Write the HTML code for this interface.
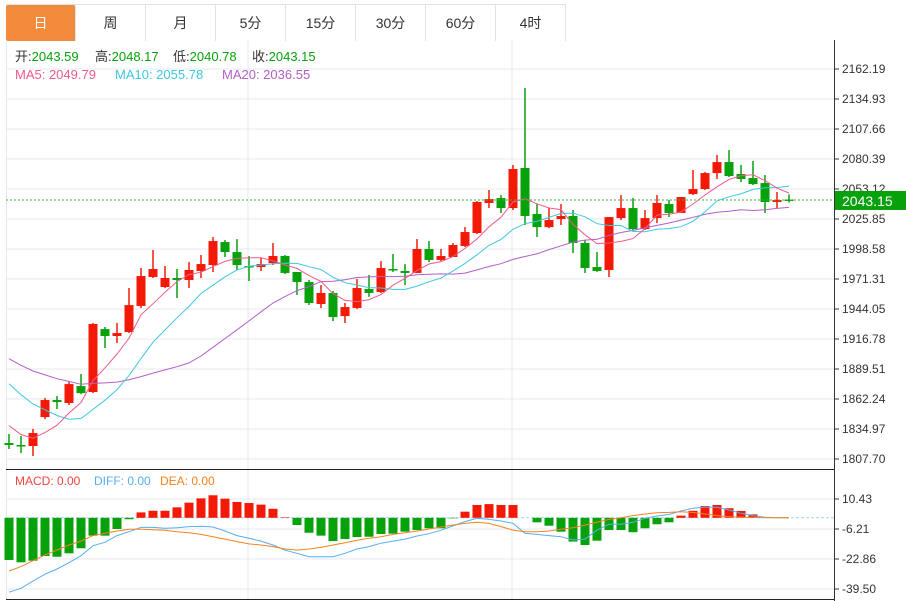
<!DOCTYPE html>
<html><head><meta charset="utf-8"><style>
html,body{margin:0;padding:0;background:#fff;width:906px;height:601px;overflow:hidden;font-family:"Liberation Sans","Noto Sans CJK SC",sans-serif;}
.tabs{position:absolute;left:6px;top:4px;height:36px;border-top:1px solid #dfe3e8;display:flex;}
.tab{width:69px;height:36px;border-right:1px solid #dfe3e8;text-align:center;line-height:36px;font-size:14px;color:#333;}
.tab.on{background:#f28b3c;color:#fff;border-radius:2px 2px 0 0;}
svg{position:absolute;left:0;top:0;}
</style></head><body>
<div class="tabs">
<div class="tab on">日</div>
<div class="tab">周</div>
<div class="tab">月</div>
<div class="tab">5分</div>
<div class="tab">15分</div>
<div class="tab">30分</div>
<div class="tab">60分</div>
<div class="tab">4时</div>
</div>
<svg id="c" width="906" height="601"></svg>
<script>
const opens=[1822.2,1820.4,1819.5,1845.8,1861.3,1858.6,1874.0,1868.6,1925.8,1919.5,1923.1,1946.8,1973.1,1964.0,1972.2,1970.4,1978.6,1984.0,2004.9,1995.8,1983.1,1982.2,1985.8,1992.2,1977.7,1968.6,1948.6,1958.6,1937.6,1945.0,1962.2,1959.5,1980.4,1978.6,1976.8,1998.6,1988.6,1991.3,2001.3,2013.1,2040.4,2044.9,2035.8,2072.2,2030.4,2018.5,2025.8,2028.6,2004.0,1982.2,1979.5,2026.7,2035.8,2016.7,2026.7,2039.5,2031.3,2048.5,2053.1,2067.6,2077.6,2066.7,2063.1,2058.5,2041.3,2043.59];
const closes=[1820.4,1819.5,1831.3,1861.3,1859.5,1875.8,1867.6,1930.4,1919.5,1922.2,1947.6,1974.0,1980.4,1972.2,1970.4,1979.5,1984.9,2005.8,1995.8,1984.0,1982.2,1984.9,1992.2,1976.8,1968.6,1949.5,1958.6,1936.7,1945.8,1963.1,1958.6,1981.3,1979.5,1976.8,1998.6,1988.6,1992.2,2002.2,2014.0,2041.3,2044.0,2035.8,2071.3,2028.6,2018.5,2024.9,2028.6,2004.0,1981.3,1978.6,2027.6,2035.8,2016.7,2026.7,2040.4,2031.3,2045.8,2053.1,2067.6,2077.6,2064.9,2062.2,2057.6,2041.3,2043.1,2043.15];
const highs=[1830.4,1828.6,1835.0,1863.1,1864.9,1877.7,1884.9,1931.3,1927.7,1931.3,1963.1,1981.3,1997.7,1983.1,1980.4,1986.7,1993.1,2009.5,2006.7,2007.6,1992.2,1990.4,2004.0,1993.1,1977.7,1970.4,1965.8,1960.4,1949.5,1971.3,1974.9,1987.6,1994.0,1984.9,2007.6,2005.8,1998.6,2004.0,2018.5,2042.2,2052.2,2047.6,2074.9,2144.9,2039.5,2035.8,2039.5,2034.0,2006.7,1995.8,2027.6,2047.6,2044.9,2034.0,2047.6,2043.1,2045.8,2070.4,2068.6,2084.0,2088.5,2075.0,2078.6,2065.8,2050.4,2048.17];
const lows=[1816.8,1813.1,1810.4,1844.0,1853.1,1856.8,1866.7,1867.6,1908.6,1913.1,1922.2,1944.9,1972.2,1963.1,1954.0,1963.1,1972.2,1977.7,1991.3,1979.5,1969.5,1978.6,1984.0,1975.8,1956.8,1947.7,1944.9,1933.1,1931.3,1944.0,1955.0,1958.6,1977.7,1965.8,1976.8,1986.7,1987.7,1991.3,2000.4,2012.2,2035.8,2031.3,2034.0,2020.4,2009.5,2017.6,2020.4,1994.9,1976.8,1977.7,1973.1,2024.9,2015.8,2015.8,2022.2,2027.6,2031.3,2047.6,2052.2,2062.2,2064.0,2059.5,2056.7,2031.3,2035.8,2040.78];
const priorCloses=[1940,1935,1932,1928,1925,1920,1915,1910,1907,1905,1918,1916,1914,1912,1910,1860,1848,1836,1826];
const macdHist=[-23.4,-24.7,-23.8,-21.2,-21.6,-19.7,-16.9,-9.9,-9.9,-6.2,-0.8,3.0,3.9,3.9,5.8,8.4,10.8,12.5,10.6,8.8,8.2,7.3,5.0,0.3,-4.0,-8.3,-9.9,-12.9,-11.8,-10.7,-10.5,-9.0,-8.8,-7.7,-6.8,-5.8,-5.8,-0.3,3.4,7.1,7.6,7.1,7.1,0,-2.5,-4.4,-7.7,-13.2,-15.1,-12.7,-6.8,-6.8,-8.0,-5.8,-3.6,-2.5,1.2,3.9,6.5,7.1,5.3,3.8,1.9,0,0,0];
const diffVals=[-41.3,-39.1,-35.1,-31.3,-28.4,-24.9,-21.0,-15.5,-13.6,-9.9,-7.7,-5.3,-5.3,-5.8,-5.5,-4.9,-4.7,-5.1,-7.3,-9.9,-11.4,-12.9,-15.1,-18.0,-19.7,-21.6,-21.6,-21.6,-19.7,-17.3,-16.0,-14.1,-12.9,-11.8,-10.1,-8.8,-6.9,-4.5,-2.1,-0.3,-0.9,-1.8,-3.1,-8.6,-9.2,-9.9,-10.5,-12.3,-11.8,-6.8,-3.6,-3.6,-2.5,-0.3,1.0,1.9,3.8,5.3,5.8,5.8,4.3,2.5,1.2,0.3,0,0];
const deaVals=[-29.5,-27.1,-23.8,-20.6,-17.9,-15.1,-12.9,-9.9,-8.6,-7.3,-6.4,-6.4,-6.6,-6.9,-7.7,-8.3,-9.2,-10.5,-11.8,-13.2,-14.5,-15.1,-16.0,-17.3,-17.9,-17.3,-16.4,-15.1,-13.8,-12.5,-11.4,-10.5,-9.2,-8.3,-7.3,-6.2,-5.1,-4.0,-3.1,-2.5,-3.1,-4.9,-6.8,-7.7,-7.7,-7.3,-6.4,-5.5,-4.0,-2.5,-0.9,0,1.2,2.1,2.8,3.0,3.4,3.0,2.1,1.2,0.6,0.4,0.2,0.1,0,0];
const priceTicks=["2162.19","2134.93","2107.66","2080.39","2053.12","2025.85","1998.58","1971.31","1944.05","1916.78","1889.51","1862.24","1834.97","1807.70"];
const macdTicks=["10.43","-6.21","-22.86","-39.50"];

const NS="http://www.w3.org/2000/svg", svg=document.getElementById('c');
function mk(t,a,parent){const e=document.createElementNS(NS,t);for(const k in a)e.setAttribute(k,a[k]);(parent||svg).appendChild(e);return e;}
const RED="#f21a06",GREEN="#07a10b";
const pTop=2162.19,pBot=1807.70,yTop=69,yBot=459;
const py=v=>yTop+(pTop-v)*(yBot-yTop)/(pTop-pBot);
const mTop=10.43,mBot=-39.50,myTop=499,myBot=589;
const my=v=>myTop+(mTop-v)*(myBot-myTop)/(mTop-mBot);
const xi=i=>9+12*i;

priceTicks.forEach((t,i)=>{const y=py(parseFloat(t));
 const g=mk('line',{x1:6,x2:834,y1:y,y2:y,stroke:'#e4e9ef','stroke-width':1});
 
 mk('line',{x1:834,x2:839,y1:y,y2:y,stroke:'#333'});
 const tx=mk('text',{x:842,y:y+4,'font-size':12,fill:'#333'});tx.textContent=t;
 });
macdTicks.forEach(t=>{const y=my(parseFloat(t));
 const g=mk('line',{x1:6,x2:834,y1:y,y2:y,stroke:'#e4e9ef'});
 
 mk('line',{x1:834,x2:839,y1:y,y2:y,stroke:'#333'});
 const tx=mk('text',{x:842,y:y+4,'font-size':12,fill:'#333'});tx.textContent=t;
 });
[248,512].forEach(x=>mk('line',{x1:x,x2:x,y1:40,y2:599,stroke:'#e4e9ef'}));
mk('line',{x1:6.5,x2:6.5,y1:40,y2:599,stroke:'#e4e9ef'});
mk('line',{x1:834.5,x2:834.5,y1:40,y2:601,stroke:'#333'});
mk('line',{x1:6,x2:834,y1:469.5,y2:469.5,stroke:'#222'});
mk('line',{x1:6,x2:834,y1:599.5,y2:599.5,stroke:'#222'});

const all=priorCloses.concat(closes);
function ma(n){return closes.map((c,i)=>{let s=0;const j=i+priorCloses.length;for(let k=j-n+1;k<=j;k++)s+=all[k];return s/n;});}
const ma5=ma(5),ma10=ma(10),ma20=ma(20);
function line(vals,col,name,yf,w){const d=vals.map((v,i)=>(i?'L':'M')+xi(i)+','+yf(v).toFixed(1)).join('');
 const p=mk('path',{d:d,fill:'none',stroke:col,'stroke-width':w||1});
 }

closes.forEach((c,i)=>{const o=opens[i],up=c>=o,col=up?RED:GREEN,x=xi(i);
 const g=mk('g',{});
 mk('line',{x1:x,x2:x,y1:py(highs[i]),y2:py(lows[i]),stroke:col,'stroke-width':1.5},g);
 const t=py(Math.max(o,c)),b=py(Math.min(o,c));
 mk('rect',{x:x-4.5,y:t,width:9,height:Math.max(1.5,b-t),fill:col},g);});
line(ma20,'#b35fc9','ma20-line',py);
line(ma10,'#3fc7df','ma10-line',py);
line(ma5,'#ee5b8c','ma5-line',py);
const lp=closes[closes.length-1];
mk('line',{x1:6,x2:834,y1:py(lp),y2:py(lp),stroke:'#3bb53b','stroke-dasharray':'2,2'});
const lb=mk('rect',{x:835,y:py(lp)-9,width:71,height:19,fill:'#07a10b'});

const lt=mk('text',{x:842,y:py(lp)+6,'font-size':14,fill:'#fff'});lt.textContent=lp.toFixed(2);

mk('line',{x1:6,x2:834,y1:my(0),y2:my(0),stroke:'#9fd8ec','stroke-dasharray':'3,2'});
macdHist.forEach((v,i)=>{if(!v)return;const y0=my(0),y1=my(v);
 const r=mk('rect',{x:xi(i)-4.5,y:Math.min(y0,y1),width:9,height:Math.abs(y1-y0),fill:v>0?RED:GREEN});
 });
line(diffVals,'#56aef0','diff-line',my);
line(deaVals,'#f58220','dea-line',my);

function txt(x,y,s,col,name,fs){const t=mk('text',{x:x,y:y,'font-size':fs||13,fill:col});t.textContent=s;
 return t;}
function info(x,label,val,name){const t=mk('text',{x:x,y:61,'font-size':13,fill:'#333'});
 
 t.innerHTML=label+':<tspan fill="#07a10b">'+val+'</tspan>';}
info(15,'开','2043.59','open-info');
info(95,'高','2048.17','high-info');
info(173,'低','2040.78','low-info');
info(252,'收','2043.15','close-info');
txt(15,79,'MA5: 2049.79','#ee5b8c','ma5-legend');
txt(115,79,'MA10: 2055.78','#3fc7df','ma10-legend');
txt(222,79,'MA20: 2036.55','#b35fc9','ma20-legend');
txt(15,485,'MACD: 0.00','#f0443c','macd-legend',12);
txt(94,485,'DIFF: 0.00','#56aef0','diff-legend',12);
txt(160,485,'DEA: 0.00','#f58220','dea-legend',12);
</script>
</body></html>
